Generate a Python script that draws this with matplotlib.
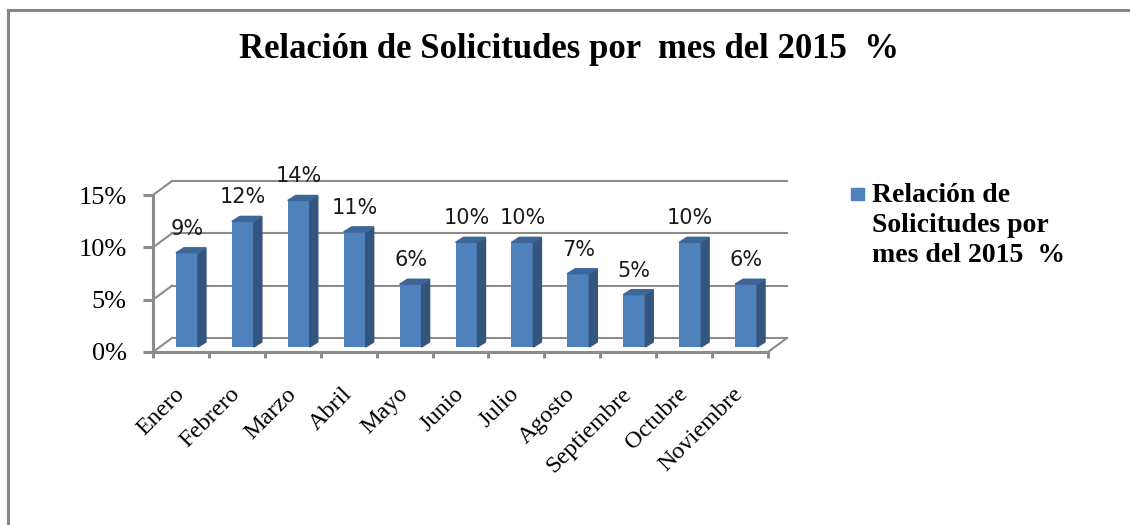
import matplotlib
matplotlib.use("Agg")
import matplotlib.pyplot as plt
from matplotlib.patches import Polygon, Rectangle
from matplotlib.lines import Line2D
import numpy as np

# datos
meses = ["Enero", "Febrero", "Marzo", "Abril", "Mayo", "Junio", "Julio",
         "Agosto", "Septiembre", "Octubre", "Noviembre"]
porcentajes = [9, 12, 14, 11, 6, 10, 10, 7, 5, 10, 6]
y_ticks = [0, 5, 10, 15]
titulo = "Relación de Solicitudes por  mes del 2015  %"
serie = "Relación de\nSolicitudes por\nmes del 2015  %"

W, H = 1130, 525
azul = "#4F81BD"
azul_lado = "#34557F"
azul_tope = "#3D6699"
gris = "#8C8C8C"
serif = "Liberation Serif"

fig = plt.figure(figsize=(W / 100, H / 100), dpi=100)
ax = fig.add_axes([153 / W, 1 - 352 / H, 615 / W, 157 / H])
ax.set_xlim(-0.5, 10.5)
ax.set_ylim(0, 15)

# pixel -> unidades de datos
px_x = 11 / 615
px_y = 15 / 157

# pared del fondo (efecto 3D)
bdx, bdy = 19 * px_x, 14 * px_y
for v in y_ticks:
    ax.plot([-0.5 + bdx, 10.5 + bdx], [v + bdy, v + bdy], color=gris,
            lw=1.5, clip_on=False, zorder=1)
    ax.plot([-0.5, -0.5 + bdx], [v, v + bdy], color=gris, lw=1.5,
            clip_on=False, zorder=1)
ax.plot([10.5, 10.5 + bdx], [0, bdy], color=gris, lw=1.5, clip_on=False, zorder=1)

# barras
x = np.arange(len(meses)) + 6 * px_x
w = 22 * px_x
b0 = 5 * px_y
ddx, ddy = 8 * px_x, 5 * px_y
ax.bar(x, porcentajes, w, bottom=b0, color=azul, zorder=3, label=serie)
for xi, v in zip(x, porcentajes):
    xl, xr, top = xi - w / 2, xi + w / 2, b0 + v
    ax.add_patch(Polygon([(xr, b0), (xr + ddx, b0 + ddy), (xr + ddx, top + ddy), (xr, top)],
                         closed=True, color=azul_lado, zorder=3, clip_on=False))
    ax.add_patch(Polygon([(xl, top), (xr, top), (xr + ddx, top + ddy), (xl + ddx, top + ddy)],
                         closed=True, color=azul_tope, zorder=3, clip_on=False))
    ax.annotate(f"{v}%", (xi, top), xytext=(0, 13), textcoords="offset points",
                ha="center", va="baseline", fontsize=15, color="#1a1a1a",
                family="DejaVu Sans", zorder=4)

# ejes
for s in ["top", "right"]:
    ax.spines[s].set_visible(False)
for s in ["left", "bottom"]:
    ax.spines[s].set_color(gris)
    ax.spines[s].set_linewidth(2.2)
ax.set_yticks(y_ticks)
ax.set_yticklabels([f"{v}%" for v in y_ticks], family=serif, fontsize=19)
ax.tick_params(axis="y", length=7, width=2.2, color=gris, pad=12)
ax.set_xticks(np.arange(len(meses)))
ax.set_xticklabels(meses, rotation=45, ha="right", va="center",
                   rotation_mode="anchor", family=serif, fontsize=17.5)
ax.tick_params(axis="x", which="major", length=0, pad=28)
ax.set_xticks(np.arange(-0.5, len(meses), 1), minor=True)
ax.tick_params(axis="x", which="minor", length=4.5, width=2.2, color=gris)

# titulo
fig.text(569 / W, 1 - 58 / H, titulo, ha="center", va="baseline",
         family=serif, fontweight="bold", fontsize=25)

# leyenda
fig.patches.append(Rectangle((851 / W, 1 - 200 / H), 13 / W, 12 / H,
                             transform=fig.transFigure, color=azul))
for i, linea in enumerate(serie.split("\n")):
    fig.text(872 / W, 1 - (202 + 30 * i) / H, linea, ha="left", va="baseline",
             family=serif, fontweight="bold", fontsize=20)

# borde
fig.lines.append(Line2D([7.5 / W, 1], [1 - 9.5 / H, 1 - 9.5 / H],
                        transform=fig.transFigure, color="#868686", lw=2.2))
fig.lines.append(Line2D([7.5 / W, 7.5 / W], [0, 1 - 9.5 / H],
                        transform=fig.transFigure, color="#868686", lw=2.2))

fig.savefig("out.png", dpi=100)
